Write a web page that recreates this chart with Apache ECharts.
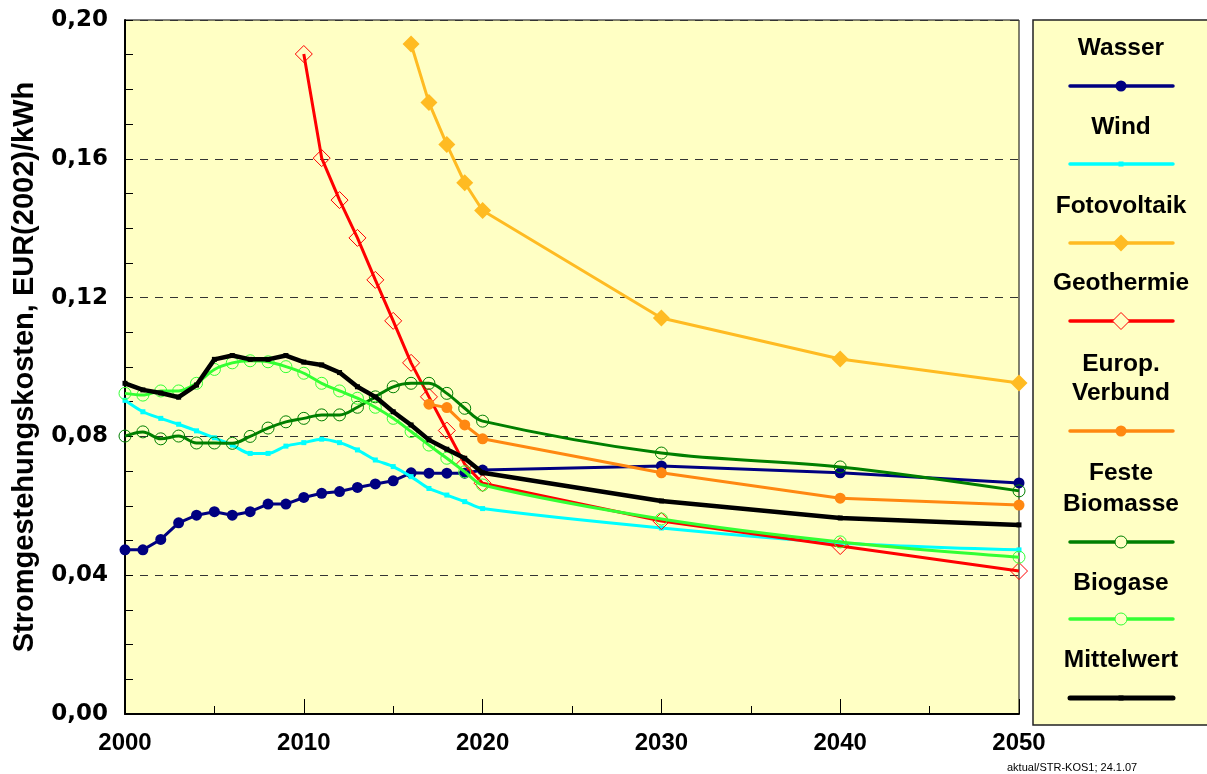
<!DOCTYPE html>
<html>
<head>
<meta charset="utf-8">
<script src="https://cdn.jsdelivr.net/npm/echarts@6/dist/echarts.min.js"></script>
<style>
html,body{margin:0;padding:0;background:#fff;}
#chart{width:1207px;height:774px;}
</style>
</head>
<body>
<div id="chart"></div>
<script>
// ---------- DATA ----------
var yearsAll = [2000,2001,2002,2003,2004,2005,2006,2007,2008,2009,2010,2011,2012,2013,2014,2015,2016,2017,2018,2019,2020,2030,2040,2050];
var yearsGeo = [2010,2011,2012,2013,2014,2015,2016,2017,2018,2019,2020,2030,2040,2050];
var yearsPV = [2016,2017,2018,2019,2020,2030,2040,2050];
var yearsEU = [2017,2018,2019,2020,2030,2040,2050];

var wasser = [0.0473,0.0473,0.0503,0.0551,0.0573,0.0583,0.0573,0.0583,0.0605,0.0605,0.0624,0.0636,0.0641,0.0653,0.0663,0.0672,0.0695,0.0694,0.0694,0.0694,0.0703,0.0715,0.0695,0.0666];
var wind = [0.0904,0.0871,0.0852,0.0835,0.0816,0.0796,0.0775,0.0751,0.0751,0.0772,0.0782,0.0792,0.0782,0.0761,0.0732,0.0713,0.0684,0.0650,0.0631,0.0612,0.0592,0.0536,0.0493,0.0473];
var fotovoltaik = [0.1931,0.1762,0.1641,0.1531,0.1451,0.1141,0.1023,0.0954];
var geothermie = [0.1902,0.1602,0.1481,0.1372,0.1251,0.1133,0.1012,0.0914,0.0817,0.0720,0.0665,0.0556,0.0484,0.0412];
var verbund = [0.0893,0.0883,0.0833,0.0793,0.0695,0.0622,0.0602];
var festeBiomasse = [0.0801,0.0813,0.0793,0.0801,0.0781,0.0781,0.0780,0.0800,0.0824,0.0842,0.0852,0.0862,0.0862,0.0884,0.0914,0.0943,0.0953,0.0953,0.0924,0.0881,0.0844,0.0752,0.0712,0.0643];
var biogase = [0.0924,0.0919,0.0931,0.0931,0.0953,0.0993,0.1012,0.1018,0.1015,0.1001,0.0982,0.0953,0.0931,0.0910,0.0884,0.0852,0.0814,0.0775,0.0737,0.0698,0.0660,0.0562,0.0496,0.0452];
var mittelwert = [0.0953,0.0934,0.0925,0.0913,0.0948,0.1022,0.1033,0.1022,0.1022,0.1033,0.1014,0.1006,0.0984,0.0943,0.0914,0.0871,0.0833,0.0790,0.0763,0.0737,0.0695,0.0614,0.0565,0.0545];

var seriesNames = ["Wasser","Wind","Fotovoltaik","Geothermie","Europ.\nVerbund","Feste\nBiomasse","Biogase","Mittelwert"];
var xTicks = [2000,2010,2020,2030,2040,2050];
var yTicks = [0,0.04,0.08,0.12,0.16,0.20];
var footnote = "aktual/STR-KOS1; 24.1.07";
var yAxisTitle = "Stromgestehungskosten, EUR(2002)/kWh";

// ---------- HELPERS ----------
function pairs(xs, ys){ return xs.map(function(x,i){ return [x, ys[i]]; }); }
var FONT = '"Liberation Sans", Arial, sans-serif';
var BG = '#FFFFC4';

var styles = [
  {color:'#000080', symbol:'circle', size:11, width:3, fill:true},
  {color:'#00FFFF', symbol:'rect', size:5, width:3, fill:true, smooth:0.3},
  {color:'#FFBB22', symbol:'diamond', size:17, width:3, fill:true},
  {color:'#FF0000', symbol:'diamond', size:17, width:3, fill:false},
  {color:'#FF8811', symbol:'circle', size:11, width:3, fill:true},
  {color:'#007F00', symbol:'emptyCircle', size:12, width:3, fill:false, smooth:0.35},
  {color:'#33FF33', symbol:'emptyCircle', size:12, width:3, fill:false, smooth:0.3},
  {color:'#000000', symbol:'rect', size:5, width:4.5, fill:true}
];
var dataSets = [
  pairs(yearsAll, wasser), pairs(yearsAll, wind), pairs(yearsPV, fotovoltaik), pairs(yearsGeo, geothermie),
  pairs(yearsEU, verbund), pairs(yearsAll, festeBiomasse), pairs(yearsAll, biogase), pairs(yearsAll, mittelwert)
];
var seriesOrder = [3,2,4,1,0,5,6,7];

var series = seriesOrder.map(function(i){
  var s = styles[i];
  return {
    name: seriesNames[i],
    type:'line',
    data: dataSets[i],
    smooth: s.smooth || false,
    symbol: s.symbol === 'emptyCircle' ? 'circle' : s.symbol,
    symbolSize: s.size,
    showAllSymbol: true,
    lineStyle:{color:s.color, width:s.width},
    itemStyle: s.fill ? {color:s.color, borderWidth:0} : {color:'rgba(0,0,0,0)', borderColor:s.color, borderWidth:1},
    emphasis:{disabled:true},
    animation:false,
    z: 2 + i
  };
});

// ---------- LEGEND (graphic) ----------
var legendBox = {x:1033, y:20, w:200, h:705};
var legendCx = 1121, lineX1 = 1070, lineX2 = 1173;
var legendTextY = [[48],[127],[206],[283],[364,393],[473,504],[583],[660]];
var legendLineY = [86,164,243,321,431,542,619,698];

var graphics = [{
  type:'rect', shape:{x:legendBox.x, y:legendBox.y, width:legendBox.w, height:legendBox.h},
  style:{fill:BG, stroke:'#222', lineWidth:1.5}, z:0
}];
seriesNames.forEach(function(name, i){
  var parts = name.split('\n');
  parts.forEach(function(p, k){
    graphics.push({type:'text', x:legendCx, y:legendTextY[i][k],
      style:{text:p, font:'bold 24.5px ' + FONT, fill:'#000', textAlign:'center', textVerticalAlign:'middle'}, z:5});
  });
  var s = styles[i], ly = legendLineY[i];
  graphics.push({type:'line', shape:{x1:lineX1, y1:ly, x2:lineX2, y2:ly},
    style:{stroke:s.color, lineWidth:s.width + 0.5, lineCap:'round'}, z:5});
  var half = s.size/2;
  var st = s.fill ? {fill:s.color} : {fill:BG, stroke:s.color, lineWidth:1};
  if (s.symbol === 'circle' || s.symbol === 'emptyCircle') {
    graphics.push({type:'circle', shape:{cx:legendCx, cy:ly, r:half}, style:st, z:6});
  } else if (s.symbol === 'rect') {
    graphics.push({type:'rect', shape:{x:legendCx-half, y:ly-half, width:s.size, height:s.size}, style:st, z:6});
  } else {
    graphics.push({type:'polygon', shape:{points:[[legendCx,ly-half],[legendCx+half,ly],[legendCx,ly+half],[legendCx-half,ly]]}, style:st, z:6});
  }
});
graphics.push({type:'text', left:1007, top:762, style:{text:footnote, font:'11px ' + FONT, fill:'#000'}});

// ---------- CHART ----------
var chart = echarts.init(document.getElementById('chart'), null, {renderer:'canvas'});
chart.setOption({
  backgroundColor:'#FFFFFF',
  animation:false,
  grid:{left:125, top:20, right:188, bottom:60, show:true, backgroundColor:BG, borderColor:'#000', borderWidth:1},
  xAxis:{
    type:'value', min:xTicks[0], max:xTicks[xTicks.length-1], interval:10,
    axisLine:{show:true, onZero:false, lineStyle:{color:'#000', width:2}},
    axisTick:{show:true, inside:true, length:15, lineStyle:{color:'#000', width:1}},
    minorTick:{show:true, splitNumber:2, length:8, lineStyle:{color:'#000', width:1}},
    axisLabel:{formatter:function(v){return String(v);}, margin:17, color:'#000', fontFamily:FONT, fontWeight:'bold', fontSize:24},
    splitLine:{show:false}
  },
  yAxis:{
    type:'value', min:yTicks[0], max:yTicks[yTicks.length-1], interval:0.04,
    name:yAxisTitle, nameLocation:'middle', nameRotate:90, nameGap:86,
    nameTextStyle:{color:'#000', fontFamily:FONT, fontWeight:'bold', fontSize:29},
    axisLine:{show:true, lineStyle:{color:'#000', width:2}},
    axisTick:{show:true, inside:true, length:8, lineStyle:{color:'#000'}},
    minorTick:{show:true, splitNumber:4, length:8, lineStyle:{color:'#000', width:1}},
    axisLabel:{formatter:function(v){return v.toFixed(2).replace('.', ',');}, margin:17, color:'#000', fontFamily:'"DejaVu Sans", sans-serif', fontWeight:'bold', fontSize:23},
    splitLine:{show:true, lineStyle:{color:'#333', width:1, type:[8,7]}}
  },
  series:series,
  graphic:graphics
});
</script>
</body>
</html>
